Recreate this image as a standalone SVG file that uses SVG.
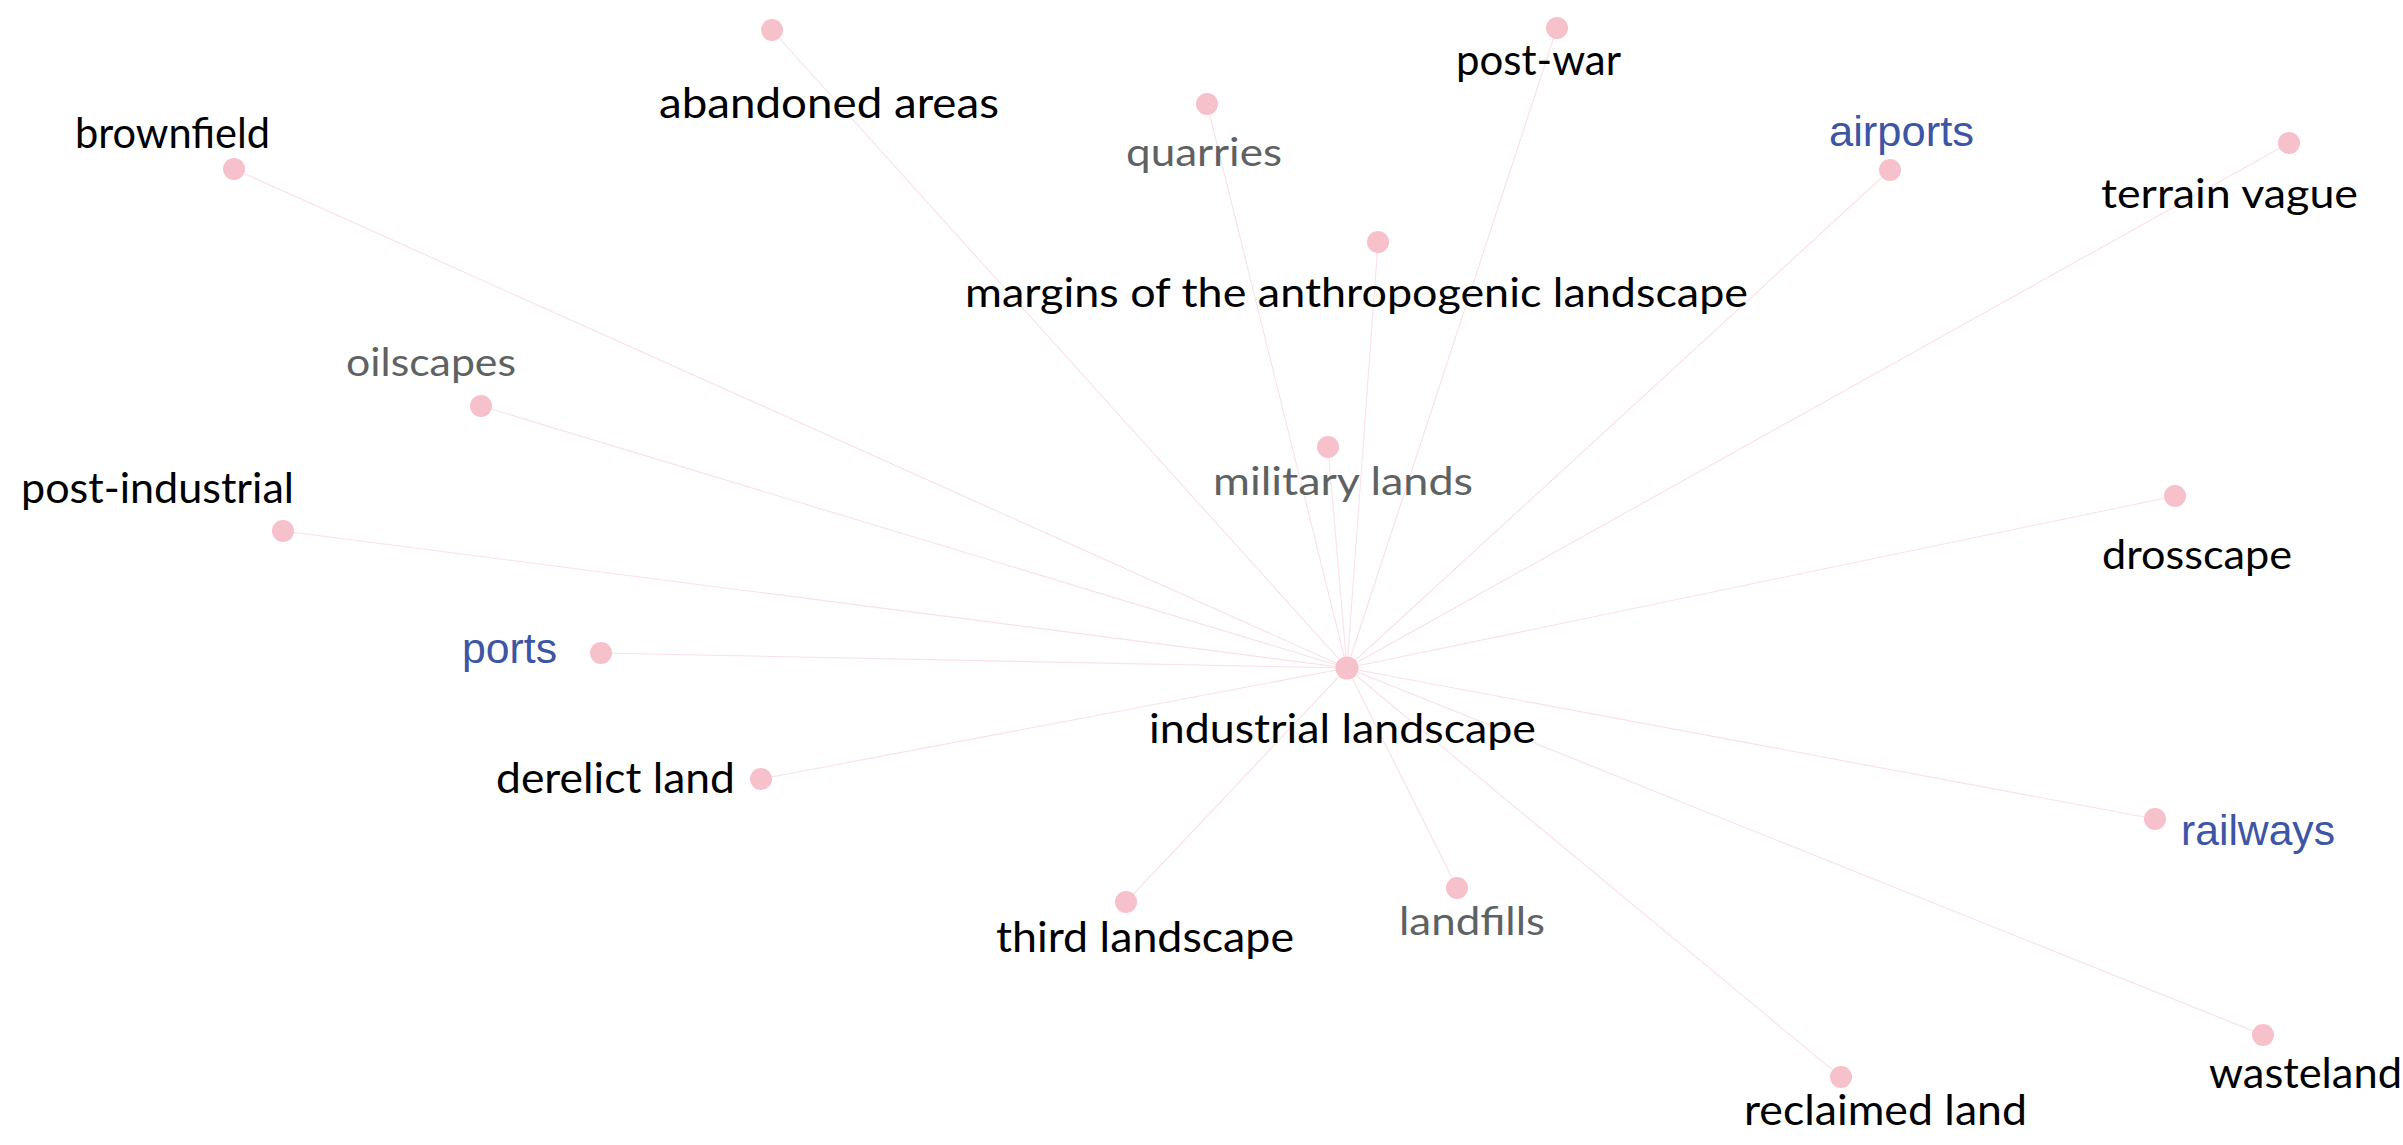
<svg xmlns="http://www.w3.org/2000/svg" width="2403" height="1145" viewBox="0 0 2403 1145">
<style>
.bg{fill:#ffffff}
.edge{stroke:#f5c3cd;stroke-width:1.1;stroke-opacity:0.5;fill:none}
.node{fill:#f7c1cc}
.lbl{font-family:Lato,"Liberation Sans",sans-serif;font-size:42px;fill:#000}
.wide{font-family:Lato,"Liberation Sans",sans-serif;font-size:41px;fill:#000}
.gray{font-family:Lato,"Liberation Sans",sans-serif;font-size:38px;fill:#5e6262}
.blue{font-family:"Liberation Sans",Arial,sans-serif;font-size:42px;fill:#3d55a5}
</style>
<rect class="bg" x="0" y="0" width="2403" height="1145"/>
<g id="connectors">
<line class="edge" x1="1347" y1="668" x2="234" y2="169"/>
<line class="edge" x1="1347" y1="668" x2="772" y2="30"/>
<line class="edge" x1="1347" y1="668" x2="1207" y2="104"/>
<line class="edge" x1="1347" y1="668" x2="1557" y2="28"/>
<line class="edge" x1="1347" y1="668" x2="1378" y2="242"/>
<line class="edge" x1="1347" y1="668" x2="1890" y2="170"/>
<line class="edge" x1="1347" y1="668" x2="2289" y2="143"/>
<line class="edge" x1="1347" y1="668" x2="481" y2="406"/>
<line class="edge" x1="1347" y1="668" x2="1328" y2="447"/>
<line class="edge" x1="1347" y1="668" x2="283" y2="531"/>
<line class="edge" x1="1347" y1="668" x2="2175" y2="496"/>
<line class="edge" x1="1347" y1="668" x2="601" y2="653"/>
<line class="edge" x1="1347" y1="668" x2="761" y2="779"/>
<line class="edge" x1="1347" y1="668" x2="2155" y2="819"/>
<line class="edge" x1="1347" y1="668" x2="1126" y2="902"/>
<line class="edge" x1="1347" y1="668" x2="1457" y2="888"/>
<line class="edge" x1="1347" y1="668" x2="1841" y2="1077"/>
<line class="edge" x1="1347" y1="668" x2="2263" y2="1035"/>
</g>
<g id="n-industrial-landscape"><circle class="node" cx="1347" cy="668" r="11.5"/><text class="wide" x="1149" y="743" textLength="387" lengthAdjust="spacingAndGlyphs">industrial landscape</text></g>
<g id="n-brownfield"><circle class="node" cx="234" cy="169" r="11"/><text class="lbl" x="75" y="148" textLength="195" lengthAdjust="spacingAndGlyphs">brownfield</text></g>
<g id="n-abandoned-areas"><circle class="node" cx="772" cy="30" r="11"/><text class="lbl" x="659" y="118" textLength="340" lengthAdjust="spacingAndGlyphs">abandoned areas</text></g>
<g id="n-quarries"><circle class="node" cx="1207" cy="104" r="11"/><text class="gray" x="1126" y="166" textLength="156" lengthAdjust="spacingAndGlyphs">quarries</text></g>
<g id="n-post-war"><circle class="node" cx="1557" cy="28" r="11"/><text class="lbl" x="1456" y="75" textLength="165" lengthAdjust="spacingAndGlyphs">post-war</text></g>
<g id="n-margins"><circle class="node" cx="1378" cy="242" r="11"/><text class="wide" x="965" y="307" textLength="783" lengthAdjust="spacingAndGlyphs">margins of the anthropogenic landscape</text></g>
<g id="n-airports"><circle class="node" cx="1890" cy="170" r="11"/><text class="blue" x="1829" y="146" textLength="145" lengthAdjust="spacingAndGlyphs">airports</text></g>
<g id="n-terrain-vague"><circle class="node" cx="2289" cy="143" r="11"/><text class="wide" x="2101" y="208" textLength="257" lengthAdjust="spacingAndGlyphs">terrain vague</text></g>
<g id="n-oilscapes"><circle class="node" cx="481" cy="406" r="11"/><text class="gray" x="346" y="376" textLength="170" lengthAdjust="spacingAndGlyphs">oilscapes</text></g>
<g id="n-military-lands"><circle class="node" cx="1328" cy="447" r="11"/><text class="gray" x="1213" y="495" textLength="260" lengthAdjust="spacingAndGlyphs">military lands</text></g>
<g id="n-post-industrial"><circle class="node" cx="283" cy="531" r="11"/><text class="lbl" x="21" y="503" textLength="273" lengthAdjust="spacingAndGlyphs">post-industrial</text></g>
<g id="n-drosscape"><circle class="node" cx="2175" cy="496" r="11"/><text class="wide" x="2102" y="569" textLength="190" lengthAdjust="spacingAndGlyphs">drosscape</text></g>
<g id="n-ports"><circle class="node" cx="601" cy="653" r="11"/><text class="blue" x="462" y="663" textLength="95" lengthAdjust="spacingAndGlyphs">ports</text></g>
<g id="n-derelict-land"><circle class="node" cx="761" cy="779" r="11"/><text class="lbl" x="496" y="793" textLength="239" lengthAdjust="spacingAndGlyphs">derelict land</text></g>
<g id="n-railways"><circle class="node" cx="2155" cy="819" r="11"/><text class="blue" x="2181" y="845" textLength="154" lengthAdjust="spacingAndGlyphs">railways</text></g>
<g id="n-third-landscape"><circle class="node" cx="1126" cy="902" r="11"/><text class="lbl" x="996" y="952" textLength="298" lengthAdjust="spacingAndGlyphs">third landscape</text></g>
<g id="n-landfills"><circle class="node" cx="1457" cy="888" r="11"/><text class="gray" x="1399" y="935" textLength="146" lengthAdjust="spacingAndGlyphs">landfills</text></g>
<g id="n-reclaimed-land"><circle class="node" cx="1841" cy="1077" r="11"/><text class="lbl" x="1744" y="1125" textLength="283" lengthAdjust="spacingAndGlyphs">reclaimed land</text></g>
<g id="n-wasteland"><circle class="node" cx="2263" cy="1035" r="11"/><text class="lbl" x="2209" y="1088" textLength="193" lengthAdjust="spacingAndGlyphs">wasteland</text></g>
</svg>
